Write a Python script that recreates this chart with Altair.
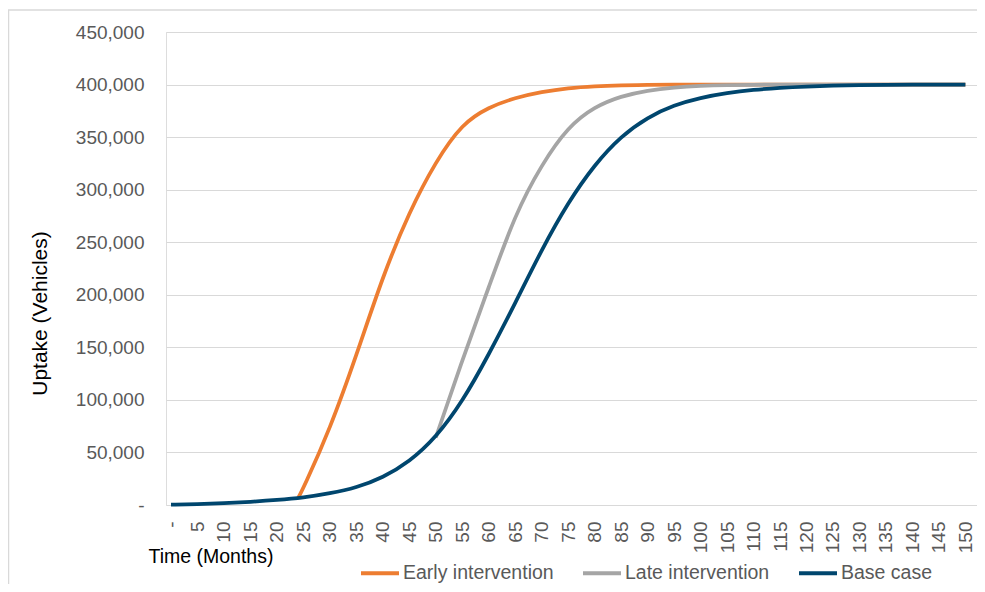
import altair as alt
import pandas as pd

# ---- data ----
base_months = list(range(0, 151, 5))
base_values = [300, 900, 1800, 3000, 4700, 7000, 11000, 16500, 26000, 41000,
               64000, 98000, 143000, 192000, 243000, 288000, 324000, 351000, 369000, 380500,
               387500, 392000, 395000, 397000, 398200, 399000, 399500, 399700, 399850, 399950,
               400000]

early_months = [24, 25] + list(range(30, 151, 5))
early_values = [6600, 16000, 72000, 142000, 218000, 279000, 327000, 363000, 378500, 387500,
                393000, 396800, 398500, 399300, 399700,
                400000, 400000, 400000, 400000, 400000, 400000, 400000, 400000, 400000, 400000,
                400000, 400000]

late_months = list(range(50, 151, 5))
late_values = [64000, 138000, 207000, 277000, 324000, 360000, 379000, 389000, 394500, 397300,
               398800, 399500, 399800, 400000, 400000, 400000, 400000, 400000, 400000, 400000,
               400000]

series_names = ["Early intervention", "Late intervention", "Base case"]
series_colors = ["#ED7D31", "#A5A5A5", "#00466E"]

x_ticks = list(range(0, 151, 5))
y_ticks = list(range(0, 450001, 50000))

df = pd.concat([
    pd.DataFrame({"month": early_months, "value": early_values, "series": series_names[0]}),
    pd.DataFrame({"month": late_months, "value": late_values, "series": series_names[1]}),
    pd.DataFrame({"month": base_months, "value": base_values, "series": series_names[2]}),
])

FONT = "Liberation Sans"

color = alt.Color(
    "series:N",
    scale=alt.Scale(domain=series_names, range=series_colors),
    legend=alt.Legend(
        title=None, orient="none", direction="horizontal",
        legendX=193, legendY=520,
        symbolType="stroke", symbolSize=1444, symbolStrokeWidth=4,
        labelFont=FONT, labelFontSize=19.5, labelColor="#595959",
        labelOffset=2, columnPadding=21,
    ),
)

x = alt.X(
    "month:Q",
    scale=alt.Scale(domain=[-0.945, 152.2], nice=False, zero=False),
    axis=alt.Axis(
        values=x_ticks, labelAngle=270, labelExpr="datum.value == 0 ? '-' : datum.label",
        labelFont=FONT, labelFontSize=19, labelColor="#595959",
        ticks=False, tickSize=0, domain=False, grid=False, labelPadding=16,
        labelOverlap=False, labelBound=False,
        title="Time (Months)", titleFont=FONT, titleFontSize=19.5, titleFontWeight="normal",
        titleColor="#000000", titleX=-18, titleY=51, titleAlign="left",
        titleBaseline="middle", titleAngle=0,
    ),
)

y = alt.Y(
    "value:Q",
    scale=alt.Scale(domain=[0, 450000], nice=False),
    axis=alt.Axis(
        values=y_ticks, labelExpr="datum.value == 0 ? '-' : format(datum.value, ',')",
        labelFont=FONT, labelFontSize=19, labelColor="#595959",
        ticks=False, tickSize=0, domain=False, grid=True, gridColor="#D9D9D9",
        gridWidth=1, labelPadding=22,
        title="Uptake (Vehicles)", titleFont=FONT, titleFontSize=21, titleFontWeight="normal",
        titleColor="#000000", titleX=-126, titleY=281, titleAngle=270,
        titleAlign="center", titleBaseline="middle",
    ),
)

layers = []
for name in series_names:
    layers.append(
        alt.Chart(df)
        .transform_filter(alt.datum.series == name)
        .mark_line(interpolate="basis", strokeWidth=3.75)
        .encode(x=x, y=y, color=color)
    )

border = alt.Chart(pd.DataFrame({"a": [0]})).mark_rect(
    filled=False, stroke="#D9D9D9", strokeWidth=1.5, clip=False
).encode(
    x=alt.value(-157.5), x2=alt.value(840), y=alt.value(-22), y2=alt.value(640)
)

chart = alt.layer(border, *layers).properties(
    width=811, height=473,
    autosize=alt.AutoSizeParams(type="none"),
    padding={"left": 158, "top": 24, "right": 0, "bottom": 79},
).configure_view(stroke=None).configure(background="white")

chart.save("out.html", embed_options={"renderer": "svg", "actions": False})
